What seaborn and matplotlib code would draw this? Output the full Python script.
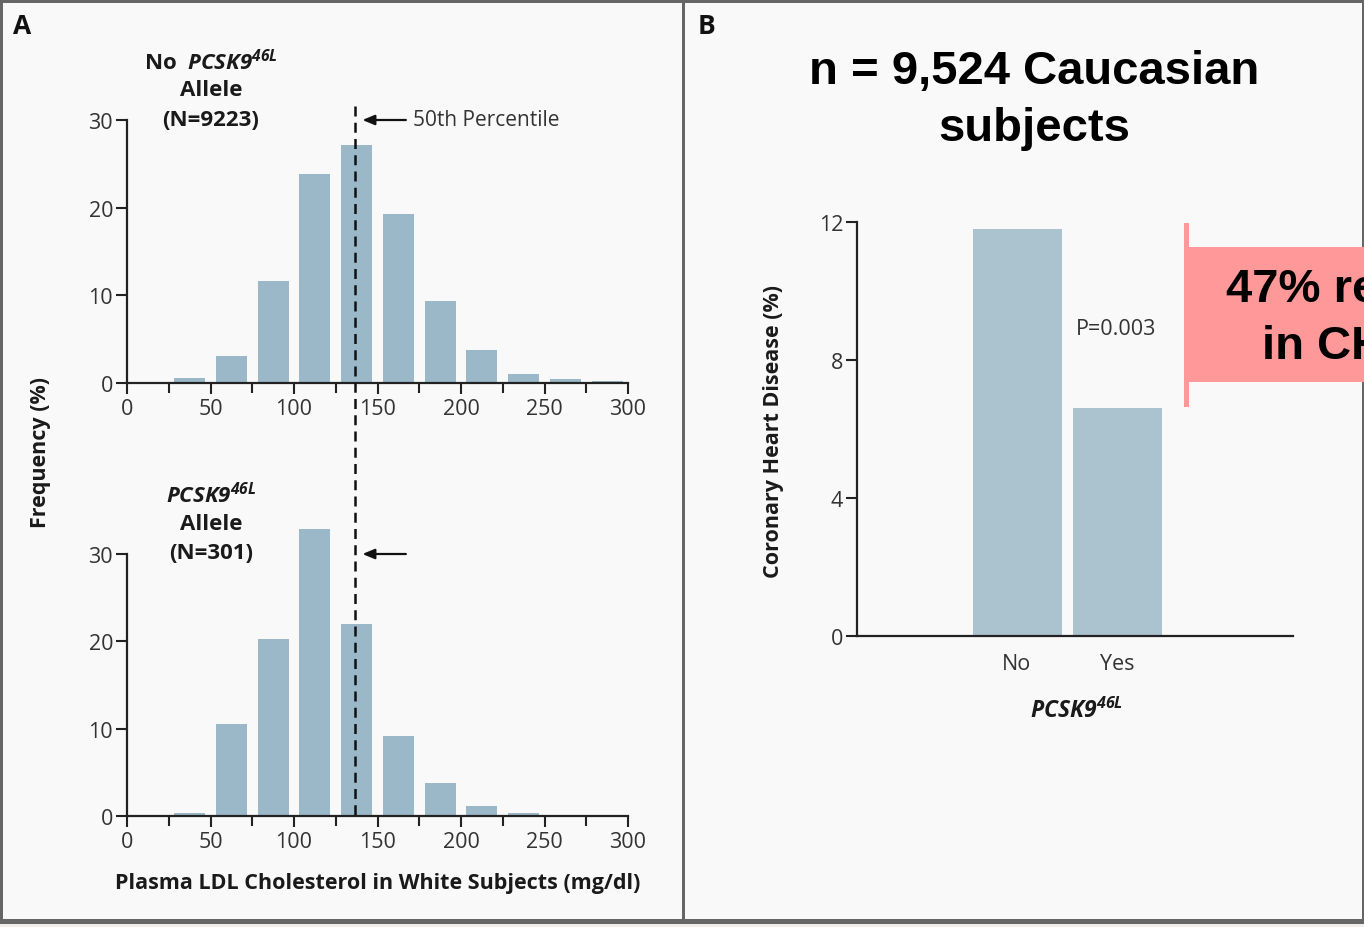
import matplotlib
matplotlib.use("Agg")
import matplotlib.pyplot as plt
import seaborn as sns
import matplotlib.transforms as mtransforms
from matplotlib.patches import Rectangle
from matplotlib.lines import Line2D

# ---------------- data ----------------
ldl_bins = [37.5, 62.5, 87.5, 112.5, 137.5, 162.5, 187.5, 212.5, 237.5, 262.5, 287.5]
freq_no_allele = [0.6, 3.1, 11.6, 23.8, 27.1, 19.3, 9.3, 3.8, 1.0, 0.45, 0.18]
freq_allele = [0.35, 10.5, 20.3, 32.9, 22.0, 9.2, 3.8, 1.1, 0.35, 0.0, 0.0]
median_ldl = 136.5
x_ticks = [0, 50, 100, 150, 200, 250, 300]
x_minor = [25, 75, 125, 175, 225, 275]
y_ticks_a = [0, 10, 20, 30]

chd_groups = ["No", "Yes"]
chd_pct = [11.8, 6.6]
y_ticks_b = [0, 4, 8, 12]

# ---------------- style ----------------
W, H = 1364, 928
sns.set_theme(style="white")
plt.rcParams['font.family'] = ['Open Sans', 'DejaVu Sans']
plt.rcParams['mathtext.fontset'] = 'custom'
plt.rcParams['mathtext.rm'] = 'Open Sans'
plt.rcParams['mathtext.it'] = 'Open Sans:italic'
plt.rcParams['mathtext.bf'] = 'Open Sans:bold'
plt.rcParams['mathtext.bfit'] = 'Open Sans:italic:bold'

BG = '#f9f9f9'
BAR_A = '#9bb8c9'
BAR_B = '#abc2cf'
INK = '#222222'
TICK_C = '#333333'
TXT = '#1a1a1a'
TICK_FS = 15.5
LAB_FS = 15.5
TITLE_FS = 16

fig = plt.figure(figsize=(W / 100, H / 100), dpi=100, facecolor=BG)


def box(l, t, r, b):
    return [l / W, 1 - b / H, (r - l) / W, (b - t) / H]


def fx(px):
    return px / W


def fy(py):
    return 1 - py / H


# frame borders
border = '#666666'
fig.add_artist(Rectangle((0, fy(928)), 1, 3 / H, transform=fig.transFigure, color='#f0eee9', lw=0))
fig.add_artist(Rectangle((0, fy(4)), 1, 4 / H, transform=fig.transFigure, color=border, lw=0))
fig.add_artist(Rectangle((0, fy(925)), 1, 5 / H, transform=fig.transFigure, color=border, lw=0))
fig.add_artist(Rectangle((0, fy(925)), 3 / W, 925 / H, transform=fig.transFigure, color=border, lw=0))
fig.add_artist(Rectangle((fx(682), fy(925)), 3 / W, 925 / H, transform=fig.transFigure, color=border, lw=0))
fig.add_artist(Rectangle((fx(1362), fy(925)), 2 / W, 925 / H, transform=fig.transFigure, color=border, lw=0))


def style_hist(ax):
    ax.set_facecolor('none')
    ax.set_xlim(0, 300)
    ax.set_ylim(0, 30)
    for p in ax.patches:
        p.set_clip_on(False)
    for s in ['top', 'right']:
        ax.spines[s].set_visible(False)
    for s in ['left', 'bottom']:
        ax.spines[s].set_color(INK)
        ax.spines[s].set_linewidth(1.6)
    ax.set_xticks(x_ticks)
    ax.set_xticks(x_minor, minor=True)
    ax.set_xticklabels([str(v) for v in x_ticks])
    ax.set_yticks(y_ticks_a)
    ax.set_yticklabels([str(v) for v in y_ticks_a])
    ax.tick_params(axis='both', which='major', direction='out', length=8, width=1.5,
                   color=INK, labelsize=TICK_FS, labelcolor=TICK_C, pad=2,
                   bottom=True, left=True)
    ax.tick_params(axis='x', which='major', pad=3)
    ax.tick_params(axis='x', which='minor', direction='out', length=7, width=1.5,
                   color=INK, bottom=True)
    ax.set_xlabel('')
    ax.set_ylabel('')


ax1 = fig.add_axes(box(127, 121, 628, 384))
sns.barplot(x=ldl_bins, y=freq_no_allele, native_scale=True, width=0.74, color=BAR_A,
            errorbar=None, linewidth=0, saturation=1, ax=ax1)
style_hist(ax1)

ax2 = fig.add_axes(box(127, 555, 628, 817))
sns.barplot(x=ldl_bins, y=freq_allele, native_scale=True, width=0.74, color=BAR_A,
            errorbar=None, linewidth=0, saturation=1, ax=ax2)
style_hist(ax2)

# median dashed line spanning both panels
tr = mtransforms.blended_transform_factory(ax1.transData, fig.transFigure)
fig.add_artist(Line2D([median_ldl, median_ldl], [fy(107), fy(820)], transform=tr,
                      color='#111111', lw=1.8, linestyle=(0, (4, 2.5))))

# arrows
for ax in (ax1, ax2):
    ax.annotate('', xy=(141, 30), xytext=(167, 30), xycoords='data',
                arrowprops=dict(arrowstyle='-|>,head_length=0.6,head_width=0.25',
                                color='#111111', lw=1.6, shrinkA=0, shrinkB=0),
                annotation_clip=False)
ax1.text(171, 30, '50th Percentile', fontsize=15, color=TICK_C, va='center', ha='left',
         clip_on=False)

# group titles
tkw = dict(ha='center', va='center', fontsize=TITLE_FS, weight='bold', color=TXT)
fig.text(fx(211), fy(62), r'No  $\mathbfit{PCSK9}^{\mathbfit{46L}}$', **tkw)
fig.text(fx(211), fy(91), 'Allele', **tkw)
fig.text(fx(211), fy(120), '(N=9223)', **tkw)
fig.text(fx(211), fy(495), r'$\mathbfit{PCSK9}^{\mathbfit{46L}}$', **tkw)
fig.text(fx(211), fy(525), 'Allele', **tkw)
fig.text(fx(211), fy(554), '(N=301)', **tkw)

fig.text(fx(41), fy(453), 'Frequency (%)', rotation=90, ha='center', va='center',
         fontsize=LAB_FS, weight='bold', color=TXT)
fig.text(fx(378), fy(884), 'Plasma LDL Cholesterol in White Subjects (mg/dl)', ha='center',
         va='center', fontsize=LAB_FS, weight='bold', color=TXT)

# panel letters
fig.text(fx(22), fy(27), 'A', ha='center', va='center', fontsize=19, weight='bold',
         color='#111111')
fig.text(fx(706), fy(27), 'B', ha='center', va='center', fontsize=19, weight='bold',
         color='#111111')

# ---------------- panel B ----------------
axb = fig.add_axes(box(857, 223, 1293, 637))
sns.barplot(x=chd_groups, y=chd_pct, order=chd_groups, width=0.89, color=BAR_B,
            errorbar=None, linewidth=0, saturation=1, ax=axb)
axb.set_facecolor('none')
axb.set_xlim(-1.6, 2.76)
axb.set_ylim(0, 12)
for s in ['top', 'right']:
    axb.spines[s].set_visible(False)
for s in ['left', 'bottom']:
    axb.spines[s].set_color(INK)
    axb.spines[s].set_linewidth(1.6)
axb.set_yticks(y_ticks_b)
axb.set_yticklabels([str(v) for v in y_ticks_b])
axb.tick_params(axis='y', direction='out', length=8, width=1.5, color=INK, labelsize=TICK_FS,
                labelcolor=TICK_C, left=True, pad=2)
axb.tick_params(axis='x', length=0, labelsize=TICK_FS, labelcolor=TICK_C, pad=12)
axb.set_xlabel('')
axb.set_ylabel('')
axb.text(0.99, 8.9, 'P=0.003', ha='center', va='center', fontsize=15.5, color=TICK_C)

fig.text(fx(773), fy(431), 'Coronary Heart Disease (%)', rotation=90, ha='center',
         va='center', fontsize=LAB_FS, weight='bold', color=TXT)
fig.text(fx(1077), fy(711), r'$\mathbfit{PCSK9}^{\mathbfit{46L}}$', ha='center',
         va='center', fontsize=TITLE_FS + 0.5, color=TXT)

fig.text(fx(1034), fy(72), 'n = 9,524 Caucasian', ha='center', va='center',
         fontsize=34, weight='bold', family='Liberation Sans', color='black')
fig.text(fx(1034), fy(129), 'subjects', ha='center', va='center',
         fontsize=34, weight='bold', family='Liberation Sans', color='black')

# red callout (text runs past the right edge, as in the reference)
RED = '#ff9999'
fig.add_artist(Rectangle((fx(1185), fy(383)), fx(1364) - fx(1185) + 0.01, (383 - 248) / H,
                         transform=fig.transFigure, color=RED, lw=0))
fig.add_artist(Rectangle((fx(1184), fy(408)), 5 / W, (408 - 224) / H,
                         transform=fig.transFigure, color=RED, lw=0))
fig.text(fx(1226), fy(290), '47% reduction', ha='left', va='center', fontsize=34,
         weight='bold', family='Liberation Sans', color='black')
fig.text(fx(1262), fy(347), 'in CHD', ha='left', va='center', fontsize=34,
         weight='bold', family='Liberation Sans', color='black')

fig.savefig('out.png', dpi=100, facecolor=BG)
